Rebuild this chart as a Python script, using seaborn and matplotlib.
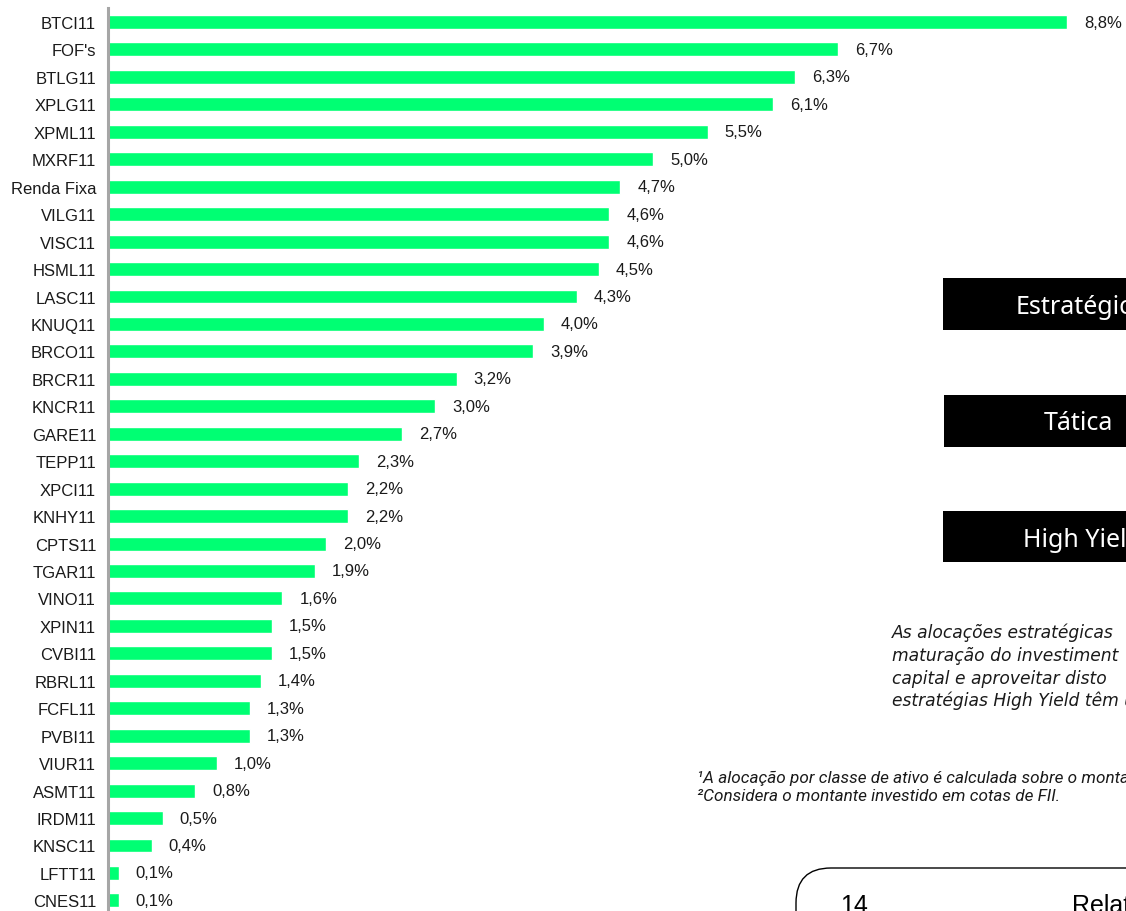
import matplotlib
matplotlib.use("Agg")
import matplotlib.pyplot as plt
import matplotlib.patches as mpatches
from matplotlib.transforms import IdentityTransform
import numpy as np
import pandas as pd
import seaborn as sns

categories = ["BTCI11", "FOF's", "BTLG11", "XPLG11", "XPML11", "MXRF11", "Renda Fixa",
              "VILG11", "VISC11", "HSML11", "LASC11", "KNUQ11", "BRCO11", "BRCR11",
              "KNCR11", "GARE11", "TEPP11", "XPCI11", "KNHY11", "CPTS11", "TGAR11",
              "VINO11", "XPIN11", "CVBI11", "RBRL11", "FCFL11", "PVBI11", "VIUR11",
              "ASMT11", "IRDM11", "KNSC11", "LFTT11", "CNES11"]
values = [8.8, 6.7, 6.3, 6.1, 5.5, 5.0, 4.7, 4.6, 4.6, 4.5, 4.3, 4.0, 3.9, 3.2,
          3.0, 2.7, 2.3, 2.2, 2.2, 2.0, 1.9, 1.6, 1.5, 1.5, 1.4, 1.3, 1.3, 1.0,
          0.8, 0.5, 0.4, 0.1, 0.1]

box_labels = ["Estratégico", "Tática", "High Yield"]
paragraph_lines = ["As alocações estratégicas",
                   "maturação do investiment",
                   "capital e aproveitar disto",
                   "estratégias High Yield têm u"]
footnotes = ["¹A alocação por classe de ativo é calculada sobre o montante",
             "²Considera o montante investido em cotas de FII."]
page_number = "14"
footer_text = "Relatório"

df = pd.DataFrame({"categoria": categories, "valor": values})

sns.set_style("white")
plt.rcParams["font.family"] = ["Liberation Sans", "DejaVu Sans"]

W, H = 1126, 912
fig = plt.figure(figsize=(W / 100, H / 100), dpi=100)

n = len(categories)
step = 27.45
top_px = 23 - step / 2
ax_left = 108 / W
ax_top = 1 - top_px / H
ax_h = n * step / H
px_per_unit = 109.0
xmax = (W - 108) / px_per_unit
ax = fig.add_axes([ax_left, ax_top - ax_h, 1 - ax_left, ax_h])

sns.barplot(data=df, x="valor", y="categoria", orient="h", color="#00FF73",
            saturation=1, width=0.51, ax=ax)

ax.set_xlim(0, xmax)
ax.set_ylim(n - 0.5, -0.5)
ax.set_xlabel("")
ax.set_ylabel("")
ax.set_xticks([])
for s in ["top", "right", "bottom"]:
    ax.spines[s].set_visible(False)
ax.spines["left"].set_color("#A6A6A6")
ax.spines["left"].set_linewidth(2.2)
ax.tick_params(axis="y", which="major", length=0, pad=8.5, labelsize=12,
               labelcolor="#1a1a1a")
ax.set_yticks(np.arange(-0.5, n, 1), minor=True)
ax.tick_params(axis="y", which="minor", direction="in", length=3.2, width=1.6,
               color="#A6A6A6")

for i, v in enumerate(values):
    ax.annotate(f"{v:.1f}".replace(".", ",") + "%", xy=(v, i), xytext=(12.2, 0),
                textcoords="offset points", va="center", ha="left",
                fontsize=12, color="#1a1a1a")

# Right-side slide elements (pixel coordinates)
def ypx(y):
    return H - y

boxes = [(943, 279, 331, 1016, 314), (944, 396, 448, 1044, 430), (943, 512, 563, 1023, 547)]
for (x0, y0, y1, tx, ty), lab in zip(boxes, box_labels):
    fig.patches.append(mpatches.Rectangle((x0, ypx(y1)), W - x0 + 5, y1 - y0,
                                          transform=IdentityTransform(),
                                          facecolor="black", edgecolor="none"))
    fig.text(tx / W, 1 - ty / H, lab, color="white", fontsize=18,
             family="Noto Sans", ha="left", va="baseline")

line_y = [638, 661, 684, 706]
for txt, y in zip(paragraph_lines, line_y):
    fig.text(892 / W, 1 - y / H, txt, fontsize=12.3, style="italic",
             family="DejaVu Sans", color="#1a1a1a", ha="left", va="baseline")

for txt, y in zip(footnotes, [783, 801]):
    fig.text(697 / W, 1 - y / H, txt, fontsize=12.3, style="italic",
             family=["Roboto", "DejaVu Sans"], color="#1a1a1a", ha="left",
             va="baseline")

rb = mpatches.FancyBboxPatch((796, -60), 500, ypx(869) + 60,
                             boxstyle="round,pad=0,rounding_size=35",
                             transform=IdentityTransform(),
                             facecolor="none", edgecolor="black", linewidth=1.0)
fig.patches.append(rb)
fig.text(840 / W, -1 / H, page_number, fontsize=18, color="black",
         ha="left", va="baseline")
fig.text(1072 / W, -1 / H, footer_text, fontsize=18, color="black",
         ha="left", va="baseline")

fig.savefig("out.png", dpi=100)
